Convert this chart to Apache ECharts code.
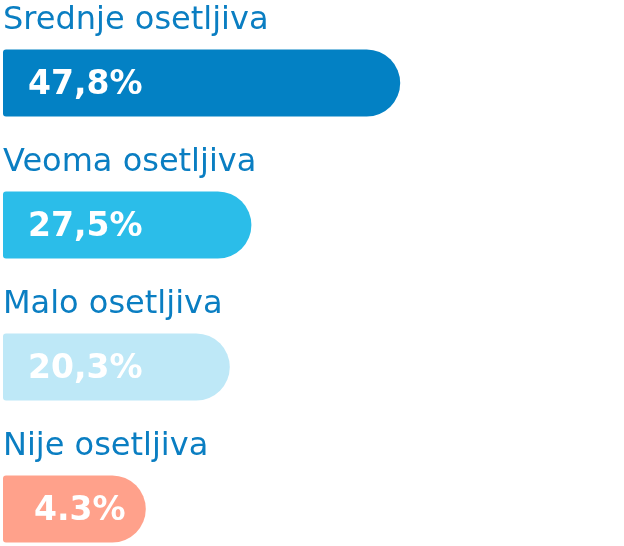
<!DOCTYPE html>
<html>
<head>
<meta charset="utf-8">
<script src="https://cdn.jsdelivr.net/npm/echarts@6/dist/echarts.min.js"></script>
<style>
  html, body { margin: 0; padding: 0; background: #fff; }
  #chart { width: 624px; height: 546px; }
</style>
</head>
<body>
<div id="chart"></div>
<script>
// kategorije (odozgo nadole)
var categories = ['Srednje osetljiva', 'Veoma osetljiva', 'Malo osetljiva', 'Nije osetljiva'];
// tekst procenta u traci, kako stoji na slici
var valueLabels = ['47,8%', '27,5%', '20,3%', '4.3%'];
// duzina trake ocitana sa slike (skala 0-100 preko sirine grafika)
var barLengths = [66.2, 41.4, 37.8, 23.8];
var barColors = ['#0381c4', '#2bbde9', '#bee8f7', '#ffa18b'];

var myChart = echarts.init(document.getElementById('chart'));

var seriesData = [];
for (var i = 0; i < barLengths.length; i++) {
    seriesData.push({
        value: barLengths[i],
        itemStyle: { color: barColors[i] },
        label: { distance: i === 3 ? 31 : 25 }
    });
}

var option = {
    animation: false,
    grid: {
        left: 3,
        width: 600,
        top: 12,
        height: 568,
        outerBoundsMode: 'none'
    },
    xAxis: {
        type: 'value',
        min: 0,
        max: 100,
        show: false
    },
    yAxis: {
        type: 'category',
        inverse: true,
        data: categories,
        axisLine: { show: false },
        axisTick: { show: false },
        splitLine: { show: false },
        axisLabel: {
            inside: true,
            margin: 0,
            align: 'left',
            verticalAlign: 'middle',
            formatter: function (name) {
                return '{n|' + name + '}\n{s|}';
            },
            rich: {
                n: {
                    color: '#0a7ec2',
                    fontFamily: 'DejaVu Sans',
                    fontSize: 32,
                    lineHeight: 36
                },
                s: {
                    height: 124
                }
            }
        }
    },
    series: [
        {
            type: 'bar',
            barWidth: 67,
            data: seriesData,
            itemStyle: {
                borderRadius: [3, 34, 34, 3]
            },
            label: {
                show: true,
                position: 'insideLeft',
                offset: [0, 2],
                color: '#fff',
                fontFamily: 'DejaVu Sans',
                fontWeight: 'bold',
                fontSize: 33,
                formatter: function (p) {
                    return valueLabels[p.dataIndex];
                }
            }
        }
    ]
};

myChart.setOption(option);
</script>
</body>
</html>
